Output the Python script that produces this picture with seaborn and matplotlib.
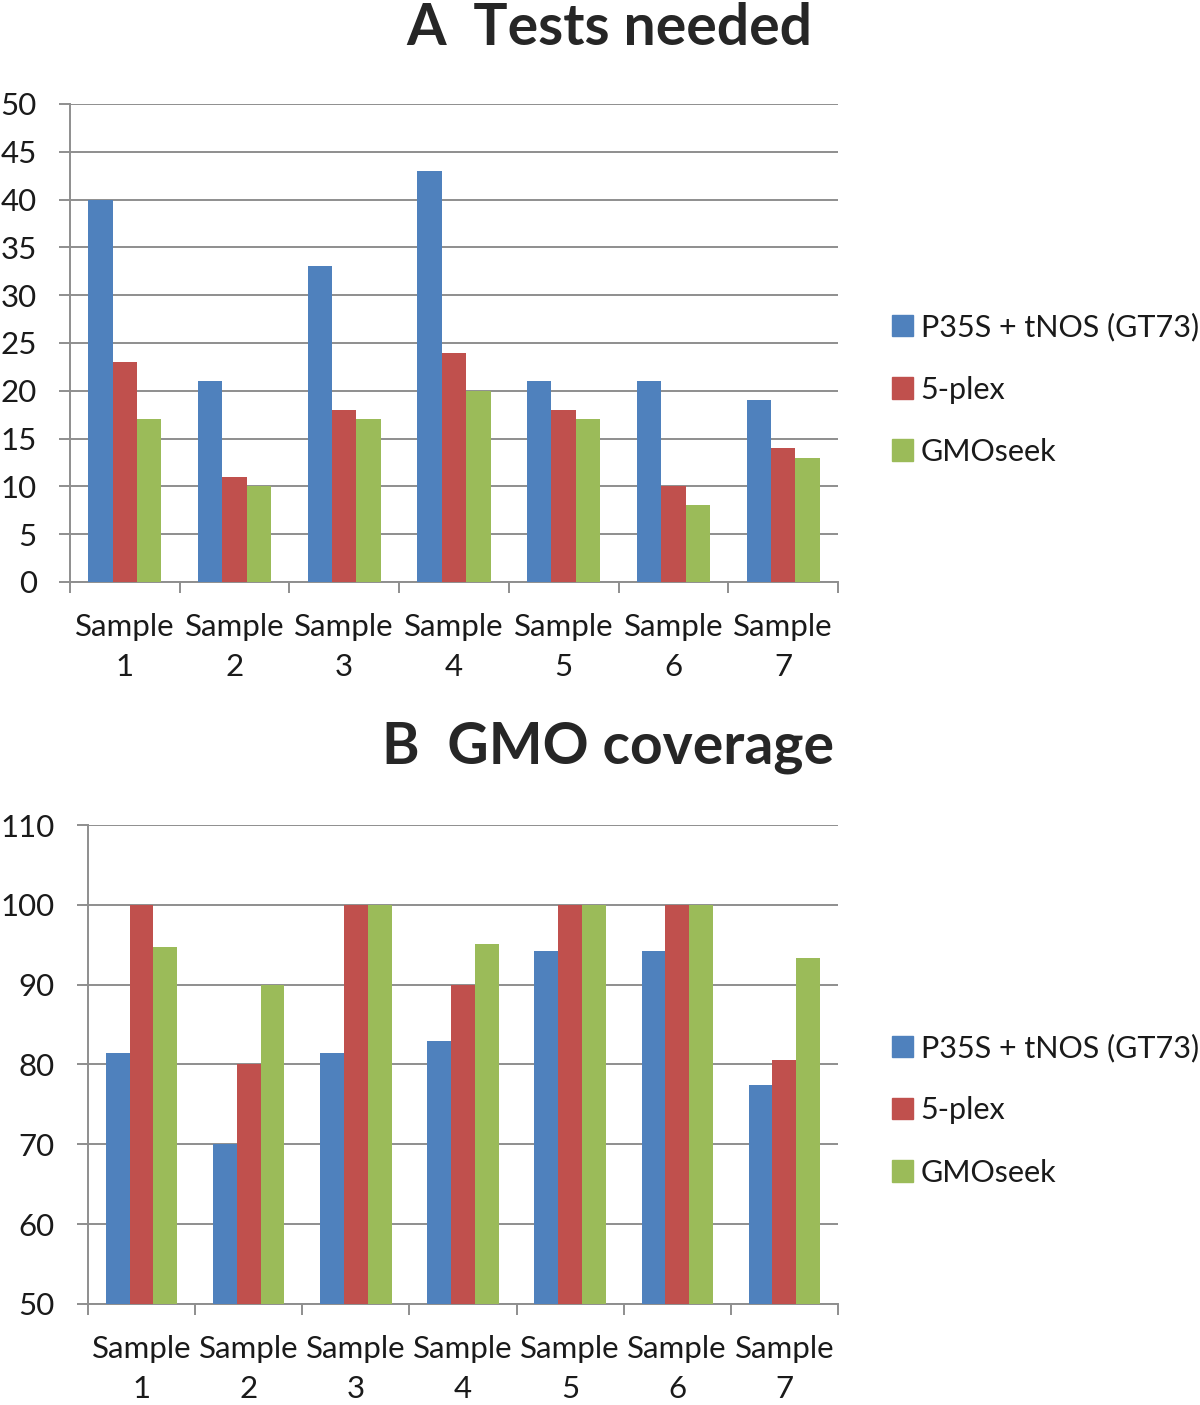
import numpy as np
import pandas as pd
import seaborn as sns
import matplotlib.pyplot as plt
from matplotlib.ticker import FixedLocator

# Data
samples = ["Sample\n1", "Sample\n2", "Sample\n3", "Sample\n4", "Sample\n5", "Sample\n6", "Sample\n7"]
methods = ["P35S + tNOS (GT73)", "5-plex", "GMOseek"]

# A: tests needed
tests_p35s = [40, 21, 33, 43, 21, 21, 19]
tests_5plex = [23, 11, 18, 24, 18, 10, 14]
tests_gmoseek = [17, 10, 17, 20, 17, 8, 13]

# B: GMO coverage
cov_p35s = [81.4, 70, 81.4, 82.9, 94.2, 94.2, 77.4]
cov_5plex = [100, 80, 100, 90, 100, 100, 80.6]
cov_gmoseek = [94.7, 90, 100, 95.1, 100, 100, 93.4]

colors = ["#4F81BD", "#C0504D", "#9BBB59"]


def long_df(a, b, c):
    rows = []
    for vals, m in zip([a, b, c], methods):
        for s, v in zip(samples, vals):
            rows.append({"sample": s, "method": m, "value": v})
    return pd.DataFrame(rows)


df_a = long_df(tests_p35s, tests_5plex, tests_gmoseek)
df_b = long_df(cov_p35s, cov_5plex, cov_gmoseek)

sns.set_style("white")
plt.rcParams["font.family"] = ["Lato", "DejaVu Sans"]

fig = plt.figure(figsize=(12, 14.05), dpi=100)
ax_a = fig.add_axes([0.0583, 0.5858, 0.64, 0.3402])
ax_b = fig.add_axes([0.0733, 0.0719, 0.625, 0.3409])

grid_col = "#8E8E8E"


def draw(ax, df, ylim, step, legend_y):
    sns.barplot(data=df, x="sample", y="value", hue="method", palette=colors,
                width=0.667, gap=0, saturation=1, ax=ax, legend=True,
                edgecolor="none", linewidth=0, zorder=3)
    ax.set_ylim(*ylim)
    ax.set_xlim(-0.5, 6.5)
    ax.set_yticks(np.arange(ylim[0], ylim[1] + 0.1, step))
    ax.yaxis.grid(True, color=grid_col, linewidth=1.4, zorder=0)
    ax.set_axisbelow(True)
    for sp in ["top", "right"]:
        ax.spines[sp].set_visible(False)
    for sp in ["left", "bottom"]:
        ax.spines[sp].set_color(grid_col)
        ax.spines[sp].set_linewidth(1.4)
    ax.set_xlabel("")
    ax.set_ylabel("")
    ax.xaxis.set_minor_locator(FixedLocator(np.arange(-0.5, 7, 1)))
    ax.tick_params(axis="x", which="major", length=0, pad=22, labelsize=22.5,
                   colors="#1a1a1a")
    ax.tick_params(axis="x", which="minor", length=8, width=1.4, color=grid_col,
                   direction="out", bottom=True)
    ax.tick_params(axis="y", length=8, width=1.4, color=grid_col, pad=16,
                   labelsize=22.5, labelcolor="#1a1a1a", left=True)
    for lbl in ax.get_xticklabels():
        lbl.set_linespacing(1.55)
    ax.legend_.remove()
    handles = [plt.Rectangle((0, 0), 1, 1, color=c) for c in colors]
    fig.legend(handles, methods, loc="center left", bbox_to_anchor=(0.743, legend_y),
               frameon=False, fontsize=22, handlelength=0.7, handleheight=0.7,
               handletextpad=0.25, labelspacing=1.12, borderpad=0, borderaxespad=0,
               labelcolor="#1a1a1a")


draw(ax_a, df_a, (0, 50), 5, 0.723)
draw(ax_b, df_b, (50, 110), 10, 0.21)

fig.text(0.5075, 0.968, "A  Tests needed", ha="center", va="baseline",
         fontsize=41, fontweight="bold")
fig.text(0.5067, 0.4565, "B  GMO coverage", ha="center", va="baseline",
         fontsize=41, fontweight="bold")

fig.savefig("out.png", dpi=100)
